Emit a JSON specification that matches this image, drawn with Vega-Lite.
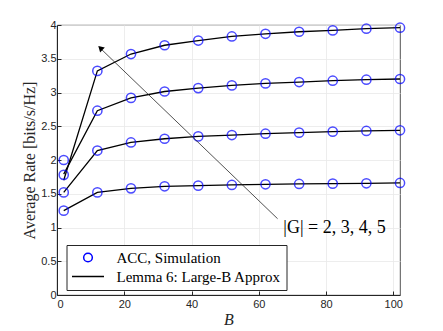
{
  "$schema": "https://vega.github.io/schema/vega-lite/v6.json",
  "autosize": {"type": "none"},
  "padding": {"left": 57, "top": 25, "right": 43, "bottom": 37},
  "width": 343,
  "height": 270,
  "background": "white",
  "config": {
    "view": {"stroke": "#262626", "strokeWidth": 0.8},
    "axis": {
      "labelFont": "Liberation Sans", "labelFontSize": 11, "labelColor": "#262626",
      "titleFont": "Liberation Serif", "titleFontSize": 16, "titleFontWeight": "normal", "titleColor": "#262626",
      "gridColor": "#e8e8e8", "gridWidth": 0.8, "domainColor": "#262626", "tickColor": "#262626",
      "tickSize": -4, "labelOverlap": false, "tickCount": 20
    }
  },
  "datasets": {
    "curves": [
      {"B": 2, "G": 5, "sim": 2.00, "approx": 1.70},
      {"B": 12, "G": 5, "sim": 3.32, "approx": 3.32},
      {"B": 22, "G": 5, "sim": 3.57, "approx": 3.57},
      {"B": 32, "G": 5, "sim": 3.70, "approx": 3.70},
      {"B": 42, "G": 5, "sim": 3.77, "approx": 3.77},
      {"B": 52, "G": 5, "sim": 3.83, "approx": 3.83},
      {"B": 62, "G": 5, "sim": 3.87, "approx": 3.87},
      {"B": 72, "G": 5, "sim": 3.90, "approx": 3.90},
      {"B": 82, "G": 5, "sim": 3.92, "approx": 3.92},
      {"B": 92, "G": 5, "sim": 3.945, "approx": 3.945},
      {"B": 102, "G": 5, "sim": 3.96, "approx": 3.96},
      {"B": 2, "G": 4, "sim": 1.78, "approx": 1.79},
      {"B": 12, "G": 4, "sim": 2.73, "approx": 2.73},
      {"B": 22, "G": 4, "sim": 2.92, "approx": 2.92},
      {"B": 32, "G": 4, "sim": 3.015, "approx": 3.015},
      {"B": 42, "G": 4, "sim": 3.065, "approx": 3.065},
      {"B": 52, "G": 4, "sim": 3.105, "approx": 3.105},
      {"B": 62, "G": 4, "sim": 3.135, "approx": 3.135},
      {"B": 72, "G": 4, "sim": 3.155, "approx": 3.155},
      {"B": 82, "G": 4, "sim": 3.175, "approx": 3.175},
      {"B": 92, "G": 4, "sim": 3.19, "approx": 3.19},
      {"B": 102, "G": 4, "sim": 3.20, "approx": 3.20},
      {"B": 2, "G": 3, "sim": 1.52, "approx": 1.52},
      {"B": 12, "G": 3, "sim": 2.14, "approx": 2.14},
      {"B": 22, "G": 3, "sim": 2.26, "approx": 2.26},
      {"B": 32, "G": 3, "sim": 2.315, "approx": 2.315},
      {"B": 42, "G": 3, "sim": 2.35, "approx": 2.35},
      {"B": 52, "G": 3, "sim": 2.37, "approx": 2.37},
      {"B": 62, "G": 3, "sim": 2.39, "approx": 2.39},
      {"B": 72, "G": 3, "sim": 2.405, "approx": 2.405},
      {"B": 82, "G": 3, "sim": 2.42, "approx": 2.42},
      {"B": 92, "G": 3, "sim": 2.43, "approx": 2.43},
      {"B": 102, "G": 3, "sim": 2.44, "approx": 2.44},
      {"B": 2, "G": 2, "sim": 1.25, "approx": 1.25},
      {"B": 12, "G": 2, "sim": 1.52, "approx": 1.52},
      {"B": 22, "G": 2, "sim": 1.58, "approx": 1.58},
      {"B": 32, "G": 2, "sim": 1.61, "approx": 1.61},
      {"B": 42, "G": 2, "sim": 1.62, "approx": 1.62},
      {"B": 52, "G": 2, "sim": 1.63, "approx": 1.63},
      {"B": 62, "G": 2, "sim": 1.64, "approx": 1.64},
      {"B": 72, "G": 2, "sim": 1.645, "approx": 1.645},
      {"B": 82, "G": 2, "sim": 1.65, "approx": 1.65},
      {"B": 92, "G": 2, "sim": 1.655, "approx": 1.655},
      {"B": 102, "G": 2, "sim": 1.66, "approx": 1.66}
    ],
    "arrow": [
      {"B": 65.6, "rate": 1.13},
      {"B": 13.0, "rate": 3.65}
    ],
    "arrowhead": [
      {"B": 12.9, "rate": 3.66}
    ],
    "label": [
      {"B": 67.3, "rate": 0.99, "text": "|G| = 2, 3, 4, 5"}
    ]
  },
  "layer": [
    {
      "data": {"name": "curves"},
      "mark": {"type": "line", "strokeWidth": 1.3, "clip": false},
      "encoding": {
        "x": {"field": "B", "type": "quantitative", "scale": {"domain": [0, 102], "nice": false},
              "axis": {"values": [0, 20, 40, 60, 80, 100], "title": "B", "titleFontStyle": "italic", "titlePadding": 2, "labelPadding": 7}},
        "y": {"field": "approx", "type": "quantitative", "scale": {"domain": [0, 4], "nice": false},
              "axis": {"values": [0, 0.5, 1, 1.5, 2, 2.5, 3, 3.5, 4], "format": ".1~f", "title": "Average Rate [bits/s/Hz]", "titlePadding": 3, "labelPadding": 5}},
        "detail": {"field": "G"},
        "stroke": {"datum": "Lemma 6: Large-B Approx", "type": "nominal",
                   "scale": {"domain": ["ACC, Simulation", "Lemma 6: Large-B Approx"], "range": ["#0000ff", "#000000"]},
                   "legend": {
                     "title": null, "orient": "none", "legendX": 9.5, "legendY": 220,
                     "labelFont": "Liberation Serif", "labelFontSize": 15, "labelColor": "#000000",
                     "strokeColor": "#262626", "fillColor": "white", "padding": 5,
                     "symbolSize": 100, "symbolStrokeWidth": 1.3, "rowPadding": 3, "labelLimit": 300,
                     "symbolOffset": 9, "labelOffset": 21,
                     "encode": {"symbols": {"update": {
                       "shape": {"signal": "datum.value == 'ACC, Simulation' ? 'circle' : 'M-3.2,0H3.2'"},
                       "size": {"signal": "datum.value == 'ACC, Simulation' ? 75 : 100"},
                       "fill": {"value": "transparent"},
                       "strokeWidth": {"value": 1.5}
                     }}}
                   }}
      }
    },
    {
      "data": {"name": "curves"},
      "mark": {"type": "point", "filled": false, "size": 85, "strokeWidth": 1.5, "clip": false},
      "encoding": {
        "x": {"field": "B", "type": "quantitative"},
        "y": {"field": "sim", "type": "quantitative"},
        "stroke": {"datum": "ACC, Simulation", "type": "nominal"}
      }
    },
    {
      "data": {"name": "arrow"},
      "mark": {"type": "line", "color": "#262626", "strokeWidth": 0.8},
      "encoding": {
        "x": {"field": "B", "type": "quantitative"},
        "y": {"field": "rate", "type": "quantitative"}
      }
    },
    {
      "data": {"name": "arrowhead"},
      "mark": {"type": "point", "shape": "triangle-up", "filled": true, "color": "#000000", "size": 45, "angle": 314, "opacity": 1},
      "encoding": {
        "x": {"field": "B", "type": "quantitative"},
        "y": {"field": "rate", "type": "quantitative"}
      }
    },
    {
      "data": {"name": "label"},
      "mark": {"type": "text", "align": "left", "baseline": "middle", "font": "Liberation Serif", "fontSize": 18, "color": "#000000"},
      "encoding": {
        "x": {"field": "B", "type": "quantitative"},
        "y": {"field": "rate", "type": "quantitative"},
        "text": {"field": "text"}
      }
    }
  ]
}
